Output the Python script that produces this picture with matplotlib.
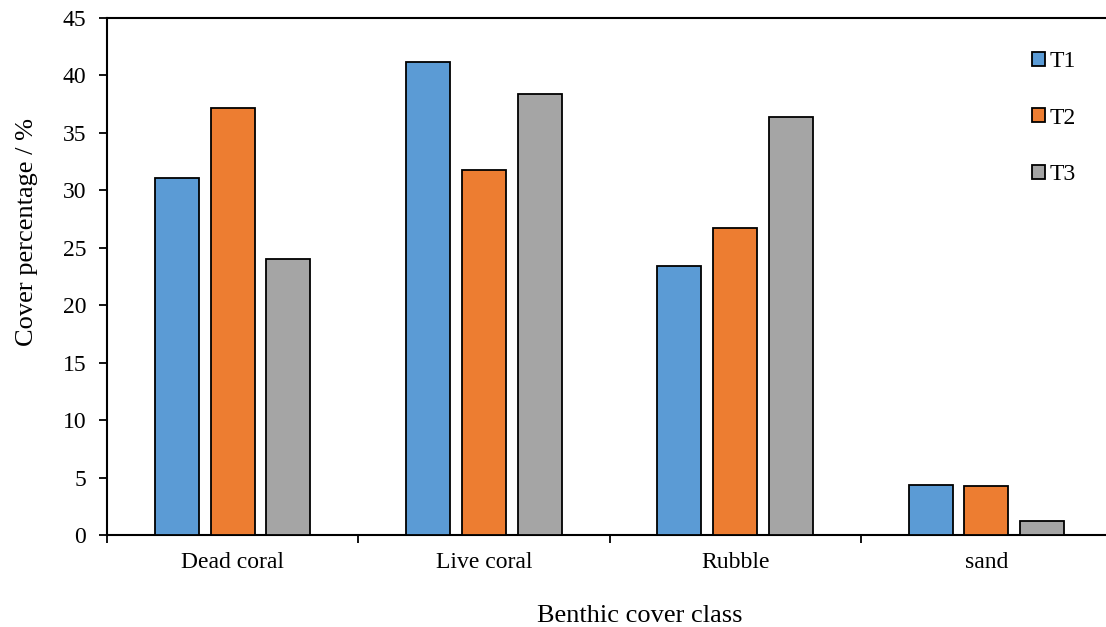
import matplotlib
matplotlib.use('Agg')
import matplotlib.pyplot as plt
import numpy as np

# data
categories = ['Dead coral', 'Live coral', 'Rubble', 'sand']
t1 = [31.05, 41.15, 23.45, 4.35]
t2 = [37.2, 31.75, 26.75, 4.3]
t3 = [24.0, 38.35, 36.4, 1.25]
series_names = ['T1', 'T2', 'T3']
colors = ['#5b9bd5', '#ed7d31', '#a5a5a5']

plt.rcParams['font.family'] = ['Liberation Serif', 'DejaVu Serif']

W, H = 1106, 627
fig = plt.figure(figsize=(W / 100, H / 100), dpi=100)
# axes runs past the right edge of the picture like in the original
ax = fig.add_axes([107 / W, 1 - 535 / H, 1005 / W, 517 / H])

x = np.arange(len(categories))
width = 0.175
step = 0.222
for i, (vals, name) in enumerate(zip([t1, t2, t3], series_names)):
    ax.bar(x + (i - 1) * step, vals, width, color=colors[i],
           edgecolor='black', linewidth=1.3, label=name, zorder=3)

ax.set_xlim(-0.5, len(categories) - 0.5)
ax.set_ylim(0, 45)
ax.set_yticks(range(0, 46, 5))
ax.set_xticks(x)
ax.set_xticklabels(categories, fontsize=17)
ax.set_xticks(np.arange(-0.5, len(categories), 1), minor=True)
ax.tick_params(axis='x', which='major', length=0, pad=12)
ax.tick_params(axis='x', which='minor', length=6, width=1.3, direction='out')
ax.tick_params(axis='y', length=6, width=1.3, direction='out', labelsize=17, pad=9)

for s in ['left', 'bottom', 'top']:
    ax.spines[s].set_linewidth(1.5)
ax.spines['right'].set_visible(False)

ax.set_ylabel('Cover percentage / %', fontsize=19, labelpad=18, y=0.586)
ax.set_xlabel('Benthic cover class', fontsize=19, labelpad=23, x=0.530)

leg = ax.legend(loc='upper left', bbox_to_anchor=(0.911, 0.954), frameon=False,
                fontsize=17, handlelength=0.55, handleheight=0.55, handletextpad=0.2,
                labelspacing=1.5, borderaxespad=0)

fig.savefig('out.png', dpi=100)
